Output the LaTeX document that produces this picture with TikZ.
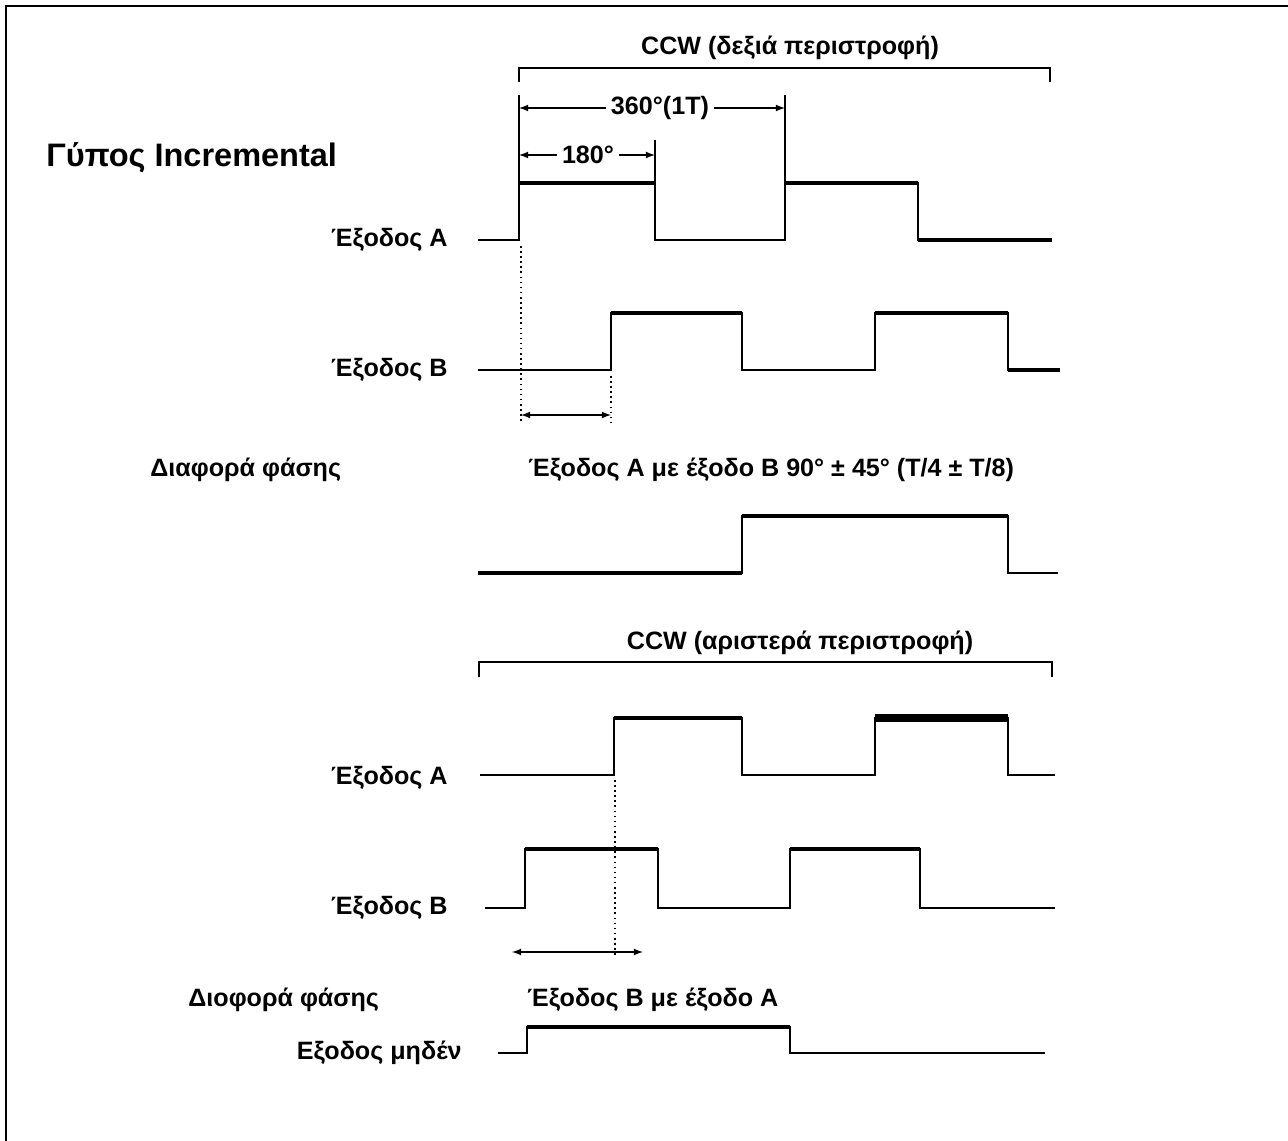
\documentclass[tikz,border=0pt]{standalone}
\usepackage{fontspec}
\setmainfont{Liberation Sans}
\usepackage{tikz}
\usetikzlibrary{arrows}

\tikzset{
  lbl/.style={font=\bfseries\fontsize{14.3}{17}\selectfont, inner sep=0pt},
  sig/.style={line width=1.1pt},
  hi/.style={line width=2.8pt},
  dim/.style={<->, >=latex, line width=0.8pt},
  dots/.style={dotted, line width=0.9pt}
}

\begin{document}
\begin{tikzpicture}[x=0.02cm, y=-0.02cm]
\useasboundingbox (0,0) rectangle (1288,1141);
\draw[line width=1.2pt] (6,1141) -- (6,6) -- (1288,6);

\node[lbl, font=\bfseries\fontsize{18.5}{22}\selectfont, anchor=west] (ttl) at (46,158) {Γύπος Incremental};

\draw[line width=1.6pt] (519,82) -- (519,68) -- (1050,68) -- (1050,82);
\node[lbl, anchor=south] (cwR) at (790,60) {CCW (δεξιά περιστροφή)};

\draw[sig] (519,95) -- (519,183);
\draw[sig] (785,95) -- (785,183);
\draw[sig] (655,140) -- (655,183);
\coordinate (d360l) at (519,108);
\coordinate (d360r) at (785,108);
\coordinate (d180l) at (519,155);
\coordinate (d180r) at (655,155);
\draw[dim] (d360l) -- (d360r);
\node[lbl, fill=white, inner xsep=3pt] (t360) at (660,108) {360°(1T)};
\draw[dim] (d180l) -- (d180r);
\node[lbl, fill=white, inner xsep=3pt] (t180) at (588,155) {180°};

\node[lbl, anchor=east] (outA) at (448,240) {Έξοδος A};
\draw[sig] (478,240) -- (519,240) -- (519,183) -- (655,183) -- (655,240) -- (785,240) -- (785,183) -- (918,183) -- (918,240) -- (1052,240);
\draw[hi] (519,183) -- (655,183);
\draw[hi] (785,183) -- (918,183);
\draw[hi] (918,240) -- (1052,240);

\node[lbl, anchor=east] (outB) at (448,370) {Έξοδος B};
\draw[sig] (478,370) -- (611,370) -- (611,313) -- (742,313) -- (742,370) -- (875,370) -- (875,313) -- (1008,313) -- (1008,370) -- (1060,370);
\draw[hi] (611,313) -- (742,313);
\draw[hi] (875,313) -- (1008,313);
\draw[hi] (1008,370) -- (1060,370);

\draw[dots] (521,246) -- (521,422);
\draw[dots] (611,376) -- (611,422);
\coordinate (phl) at (521,415);
\coordinate (phr) at (611,415);
\draw[dim] (phl) -- (phr);

\node[lbl, anchor=west] (dfA) at (150,470) {Διαφορά φάσης};
\node[lbl, anchor=west] (dfAt) at (528,470) {Έξοδος A με έξοδο B 90° ± 45° (T/4 ± T/8)};
\draw[sig] (478,573) -- (742,573) -- (742,516) -- (1008,516) -- (1008,573) -- (1058,573);
\draw[hi] (478,573) -- (742,573);
\draw[hi] (742,516) -- (1008,516);

\draw[sig] (479,677) -- (479,662) -- (1052,662) -- (1052,677);
\node[lbl, anchor=south] (cwL) at (800,655) {CCW (αριστερά περιστροφή)};

\node[lbl, anchor=east] (outA2) at (448,778) {Έξοδος A};
\draw[sig] (480,775) -- (614,775) -- (614,718) -- (742,718) -- (742,775) -- (875,775) -- (875,718) -- (1008,718) -- (1008,775) -- (1055,775);
\draw[hi] (614,718) -- (742,718);
\draw[line width=4.5pt] (875,718) -- (1008,718);

\node[lbl, anchor=east] (outB2) at (448,908) {Έξοδος B};
\draw[sig] (485,908) -- (525,908) -- (525,849) -- (658,849) -- (658,908) -- (790,908) -- (790,849) -- (920,849) -- (920,908) -- (1055,908);
\draw[hi] (525,849) -- (658,849);
\draw[hi] (790,849) -- (920,849);

\draw[dots] (615,780) -- (615,955);
\coordinate (ph2l) at (512,952);
\coordinate (ph2r) at (643,952);
\draw[dim] (ph2l) -- (ph2r);

\node[lbl, anchor=west] (dfB) at (188,1000) {Διοφορά φάσης};
\node[lbl, anchor=west] (dfBt) at (527,1000) {Έξοδος B με έξοδο A};

\node[lbl, anchor=east] (outZ) at (462,1053) {Εξοδος μηδέν};
\draw[sig] (498,1053) -- (527,1053) -- (527,1027) -- (790,1027) -- (790,1053) -- (1045,1053);
\draw[hi] (527,1027) -- (790,1027);
\end{tikzpicture}
\end{document}
